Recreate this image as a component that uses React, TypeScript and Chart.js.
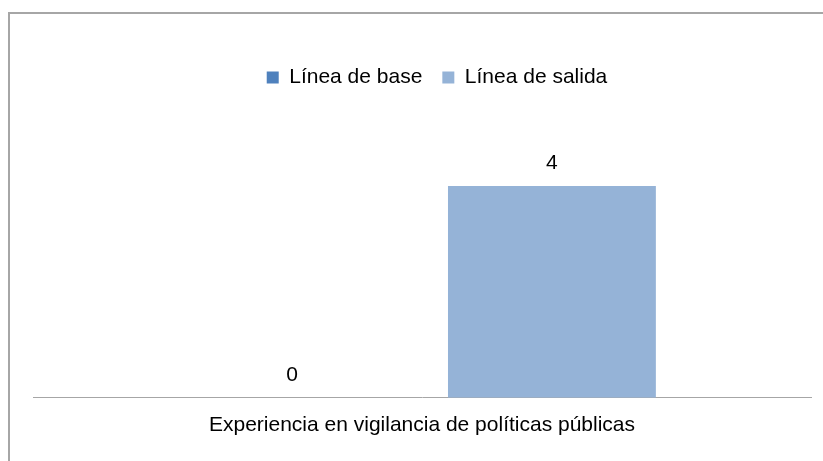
import React, { useEffect, useRef } from "react";
import { Chart, registerables } from "chart.js";

Chart.register(...registerables);

const categories = ["Experiencia en vigilancia de políticas públicas"];
const seriesNames = ["Línea de base", "Línea de salida"];
const baseValues = [0];
const exitValues = [4];
const seriesColors = ["#4F81BD", "#95B3D7"];

const FONT = "'Liberation Sans', Arial, sans-serif";

const legendHeightPlugin = {
  id: "legendHeight",
  beforeInit(chart: any) {
    const legend = chart.legend;
    if (!legend) return;
    const origFit = legend.fit;
    legend.fit = function () {
      origFit.call(this);
      this.height = 86;
    };
  },
  afterLayout(chart: any) {
    const l = chart.legend;
    if (!l) return;
    l.left += 15;
    l.right += 15;
  },
};

const valueLabelsPlugin = {
  id: "valueLabels",
  afterDatasetsDraw(chart: any) {
    const ctx = chart.ctx;
    ctx.save();
    ctx.font = `21px ${FONT}`;
    ctx.fillStyle = "#000000";
    ctx.textAlign = "center";
    ctx.textBaseline = "middle";
    chart.data.datasets.forEach((ds: any, di: number) => {
      const meta = chart.getDatasetMeta(di);
      meta.data.forEach((bar: any, i: number) => {
        ctx.fillText(String(ds.data[i]), bar.x, bar.y - 23);
      });
    });
    ctx.restore();
  },
};

export default function App() {
  const ref = useRef<HTMLCanvasElement | null>(null);

  useEffect(() => {
    if (!ref.current) return;
    const chart = new Chart(ref.current, {
      type: "bar",
      data: {
        labels: categories,
        datasets: [
          {
            label: seriesNames[0],
            data: baseValues,
            backgroundColor: seriesColors[0],
            borderWidth: 0,
            categoryPercentage: 0.668,
            barPercentage: 0.8,
          },
          {
            label: seriesNames[1],
            data: exitValues,
            backgroundColor: seriesColors[1],
            borderWidth: 0,
            categoryPercentage: 0.668,
            barPercentage: 0.8,
          },
        ],
      },
      options: {
        responsive: false,
        animation: false,
        layout: { padding: { left: 33, right: 12, top: 47, bottom: 16 } },
        plugins: {
          legend: {
            position: "top",
            align: "center",
            labels: {
              boxWidth: 12,
              boxHeight: 12,
              padding: 20,
              color: "#000000",
              font: { family: FONT, size: 21 },
            },
          },
          tooltip: { enabled: false },
        },
        scales: {
          x: {
            grid: { display: false },
            border: { display: true, color: "#a6a6a6", width: 1 },
            ticks: {
              color: "#000000",
              font: { family: FONT, size: 21 },
              padding: 7,
            },
          },
          y: {
            display: false,
            min: 0,
            max: 5,
          },
        },
      },
      plugins: [legendHeightPlugin, valueLabelsPlugin],
    });
    return () => chart.destroy();
  }, []);

  return (
    <div
      style={{
        position: "absolute",
        left: 0,
        top: 0,
        width: 823,
        height: 461,
        overflow: "hidden",
        background: "#ffffff",
      }}
    >
      <div
        style={{
          position: "absolute",
          left: 8,
          top: 12,
          width: 900,
          height: 600,
          border: "2px solid #a6a6a6",
          boxSizing: "border-box",
        }}
      />
      <canvas
        ref={ref}
        width={823}
        height={461}
        style={{ position: "absolute", left: 0, top: 0, width: 823, height: 461 }}
      />
    </div>
  );
}
